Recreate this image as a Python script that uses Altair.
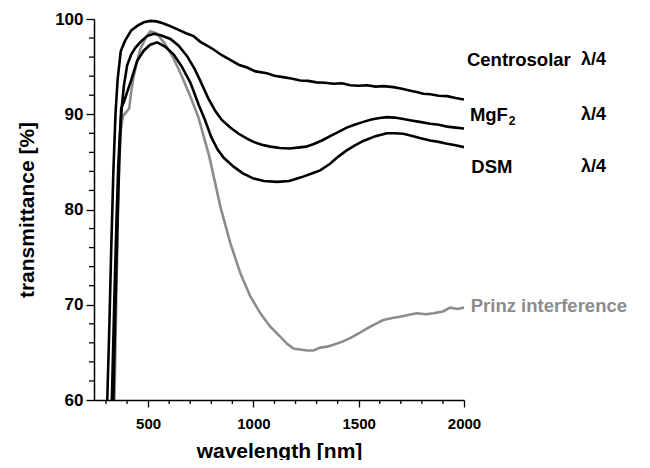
import altair as alt
import pandas as pd

# ---- data ----
cs_nm = [300, 306, 315, 325, 335, 345, 355, 370, 390, 420, 450, 480, 510, 540, 570, 600, 621, 650, 680, 716,
         748, 780, 811, 850, 890, 930, 970, 1010, 1064, 1100, 1140, 1180, 1222, 1260, 1300, 1340, 1380, 1420,
         1460, 1500, 1540, 1580, 1620, 1665, 1700, 1740, 1780, 1807, 1840, 1880, 1920, 1960, 2000]
cs_t = [55, 60, 67, 76, 84, 90, 93.6, 96.6, 97.7, 98.8, 99.3, 99.65, 99.8, 99.75, 99.55, 99.3, 99.1, 98.8, 98.5,
        98.2, 97.6, 97.2, 96.8, 96.2, 95.7, 95.2, 94.9, 94.5, 94.3, 94.05, 93.9, 93.75, 93.55, 93.5, 93.35, 93.3,
        93.2, 93.25, 93.05, 93.0, 93.05, 92.9, 92.95, 92.85, 92.7, 92.5, 92.3, 92.15, 92.1, 91.95, 91.9, 91.7, 91.55]

mg_nm = [322, 330, 340, 350, 358, 366, 375, 385, 400, 420, 440, 464, 495, 527, 560, 606, 645, 685, 720, 750,
         787, 820, 850, 890, 930, 970, 1000, 1040, 1080, 1127, 1170, 1210, 1250, 1290, 1330, 1364, 1400, 1443,
         1480, 1522, 1560, 1600, 1633, 1670, 1712, 1750, 1790, 1839, 1880, 1920, 1960, 2000]
mg_t = [55, 62, 71, 79, 84.5, 88, 90.8, 93.0, 95.1, 96.3, 97.0, 97.6, 98.2, 98.45, 98.3, 97.9, 97.2, 96.1, 94.8,
        93.4, 91.6, 90.3, 89.4, 88.6, 87.95, 87.45, 87.1, 86.8, 86.6, 86.45, 86.4, 86.5, 86.6, 86.9, 87.3, 87.7,
        88.1, 88.6, 88.9, 89.2, 89.45, 89.6, 89.7, 89.65, 89.5, 89.35, 89.2, 89.0, 88.9, 88.7, 88.6, 88.5]

dsm_nm = [330, 336, 345, 355, 362, 368, 372, 385, 400, 420, 448, 480, 510, 543, 580, 621, 660, 701, 740, 770,
          800, 830, 860, 906, 950, 1001, 1050, 1112, 1170, 1230, 1280, 1317, 1364, 1400, 1443, 1480, 1522, 1580,
          1633, 1670, 1712, 1750, 1790, 1839, 1880, 1920, 1960, 2000]
dsm_t = [55, 61, 70, 79, 84.5, 88.2, 90.6, 91.3, 92.3, 93.6, 95.6, 96.7, 97.3, 97.55, 97.1, 96.3, 95.0, 93.3,
         91.0, 89.4, 87.6, 86.3, 85.4, 84.5, 83.8, 83.25, 83.0, 82.9, 83.0, 83.4, 83.8, 84.1, 84.8, 85.5, 86.2,
         86.7, 87.2, 87.7, 88.0, 88.0, 87.95, 87.75, 87.5, 87.25, 87.1, 86.9, 86.75, 86.55]

pr_nm = [335, 342, 350, 357, 363, 370, 380, 395, 410, 420, 430, 445, 464, 490, 511, 540, 580, 620, 660, 700,
         740, 790, 843, 890, 938, 985, 1033, 1080, 1127, 1160, 1190, 1222, 1255, 1285, 1317, 1350, 1380,
         1420, 1459, 1500, 1538, 1580, 1617, 1660, 1696, 1740, 1775, 1820, 1855, 1900, 1934, 1970, 2000]
pr_t = [55, 62, 72, 80, 85, 88.2, 89.8, 90.2, 90.6, 92.4, 93.8, 95.3, 96.9, 98.1, 98.7, 98.5, 97.4, 95.9, 94.0,
        91.9, 89.6, 85.6, 80.3, 76.5, 73.3, 70.9, 69.1, 67.7, 66.65, 65.9, 65.4, 65.3, 65.2, 65.2, 65.5,
        65.6, 65.8, 66.1, 66.5, 67.0, 67.5, 68.0, 68.4, 68.6, 68.75, 68.95, 69.1, 69.0, 69.1, 69.3, 69.7, 69.55, 69.7]

x_major = [500, 1000, 1500, 2000]
x_minor = [300, 400, 600, 700, 800, 900, 1100, 1200, 1300, 1400, 1600, 1700, 1800, 1900]
y_major = [60, 70, 80, 90, 100]
y_minor = [62, 64, 66, 68, 72, 74, 76, 78, 82, 84, 86, 88, 92, 94, 96, 98]

label_text = ["Centrosolar", "MgF", "DSM", "Prinz interference"]
label_x = [2014, 2028, 2035, 2032]
label_y = [95.65, 89.9, 84.5, 69.9]
label_col = ["black", "black", "black", "grey"]
sub_text = ["2"]
sub_x = [2213]
sub_y = [89.3]
lam_text = ["\u03bb/4", "\u03bb/4", "\u03bb/4"]
lam_x = [2555, 2555, 2555]
lam_y = [95.65, 89.9, 84.5]

# ---- build tables ----
black = pd.concat([
    pd.DataFrame({"nm": cs_nm, "T": cs_t, "s": "Centrosolar"}),
    pd.DataFrame({"nm": mg_nm, "T": mg_t, "s": "MgF2"}),
    pd.DataFrame({"nm": dsm_nm, "T": dsm_t, "s": "DSM"}),
])
grey = pd.DataFrame({"nm": pr_nm, "T": pr_t, "s": "Prinz"})
labels = pd.DataFrame({"nm": label_x, "T": label_y, "text": label_text, "c": label_col})
subs = pd.DataFrame({"nm": sub_x, "T": sub_y, "text": sub_text})
lams = pd.DataFrame({"nm": lam_x, "T": lam_y, "text": lam_text})
xminor_df = pd.DataFrame({"nm": x_minor})
yminor_df = pd.DataFrame({"T": y_minor})

FONT = "Liberation Sans"
GREY = "#8c8c8c"
W, H = 370, 381

xs = alt.Scale(domain=[243, 2000], nice=False, zero=False)
ys = alt.Scale(domain=[60, 100], nice=False, zero=False)

common_axis = dict(grid=False, domainColor="black", tickColor="black", labelColor="black",
                   titleColor="black", labelFont=FONT, titleFont=FONT, labelFontWeight="bold",
                   titleFontWeight="bold", tickWidth=1.3, domainWidth=1.5, labelOverlap=False)

x_axis = alt.Axis(values=x_major, orient="bottom", format="d", tickSize=7, labelFontSize=15,
                  labelPadding=9, title="wavelength [nm]", titleFontSize=21, titlePadding=9,
                  labelFlush=False, **common_axis)
y_axis = alt.Axis(values=y_major, orient="left", format="d", tickSize=8, labelFontSize=17,
                  labelPadding=3, title="transmittance [%]", titleFontSize=21, titlePadding=17,
                  **common_axis)

grey_line = alt.Chart(grey).mark_line(color=GREY, strokeWidth=2.6, clip=True).encode(
    x=alt.X("nm:Q", scale=xs, axis=x_axis),
    y=alt.Y("T:Q", scale=ys, axis=y_axis),
)

black_lines = alt.Chart(black).mark_line(color="black", strokeWidth=2.6, clip=True).encode(
    x="nm:Q", y="T:Q", detail="s:N",
)

# minor ticks outside the plot area (4-5 px long)
x_minor_ticks = alt.Chart(xminor_df).mark_rule(color="black", strokeWidth=1.3).encode(
    x="nm:Q", y=alt.value(H), y2=alt.value(H + 4),
)
y_minor_ticks = alt.Chart(yminor_df).mark_rule(color="black", strokeWidth=1.3).encode(
    y="T:Q", x=alt.value(0), x2=alt.value(-5),
)

label_marks = alt.Chart(labels).mark_text(align="left", baseline="middle", font=FONT, fontWeight="bold",
                                          fontSize=18.5).encode(
    x="nm:Q", y="T:Q", text="text:N",
    color=alt.Color("c:N", scale=alt.Scale(domain=["black", "grey"], range=["#000000", GREY]),
                    legend=None),
)

sub_marks = alt.Chart(subs).mark_text(align="left", baseline="middle", font=FONT, fontWeight="bold",
                                      fontSize=12, color="black").encode(
    x="nm:Q", y="T:Q", text="text:N",
)

lam_marks = alt.Chart(lams).mark_text(align="left", baseline="middle", font=FONT, fontWeight="bold",
                                      fontSize=18, color="black").encode(
    x="nm:Q", y="T:Q", text="text:N",
)

chart = alt.layer(grey_line, black_lines, x_minor_ticks, y_minor_ticks,
                  label_marks, sub_marks, lam_marks).properties(
    width=W, height=H,
    autosize=alt.AutoSizeParams(type="none"),
    padding={"left": 86, "top": 11, "right": 178, "bottom": 60},
    background="white",
).configure_view(stroke=None)

chart.save("out.html", embed_options={"renderer": "svg", "actions": False})
